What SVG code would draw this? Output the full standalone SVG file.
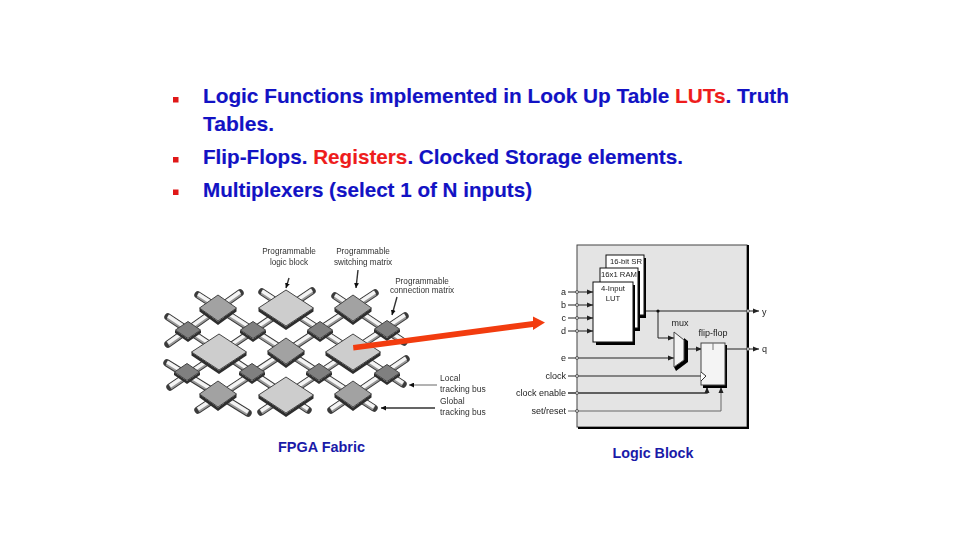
<svg xmlns="http://www.w3.org/2000/svg" width="960" height="540" viewBox="0 0 960 540">
<style>
text{font-family:"Liberation Sans",Arial,sans-serif}
.h{font-size:20.8px;font-weight:700;fill:#1212c4;stroke:#1212c4;stroke-width:.15}
.r{fill:#ee1c1c;stroke:#ee1c1c}
.cap{font-size:15.2px;font-weight:700;fill:#1a1aa8}
.s{font-size:8.2px;fill:#333;text-anchor:middle}
.l{font-size:8.5px;fill:#333}
.k{font-size:9px;fill:#222}
.k2{font-size:7.7px;fill:#222;text-anchor:middle}
.e{text-anchor:end}
.m{text-anchor:middle}
.bo{fill:none;stroke:#3a3a3a;stroke-width:7.4;stroke-linecap:round}
.bm{fill:none;stroke:#999;stroke-width:5.4;stroke-linecap:butt}
.bi{fill:none;stroke:#f4f4f4;stroke-width:3.4;stroke-linecap:butt}
.sh{fill:#2f2f2f}
.big{fill:#cdcdcd;stroke:#444;stroke-width:1}
.mid{fill:#a2a2a2;stroke:#444;stroke-width:1}
.sml{fill:#808080;stroke:#444;stroke-width:1}
.ln{fill:none;stroke:#222;stroke-width:1}
.ln2{fill:none;stroke:#333;stroke-width:1.4}
.thin{fill:none;stroke:#666;stroke-width:1}
.pin{fill:#ddd;stroke:#444;stroke-width:.8}
.dot{fill:#111}
.box{fill:#fff;stroke:#111;stroke-width:1}
.ff{fill:#f4f4f4;stroke:#444;stroke-width:1}
.blk{fill:#000}
</style>
<defs>
<filter id="soft" x="-5%" y="-5%" width="110%" height="110%"><feGaussianBlur stdDeviation="0.4"/></filter>
<marker id="a" viewBox="0 0 6 6" refX="6" refY="3" markerWidth="5" markerHeight="5" orient="auto" markerUnits="userSpaceOnUse"><path d="M0 0L6 3L0 6z" fill="#111"/></marker>
<marker id="t" viewBox="0 0 6 6" refX="6" refY="3" markerWidth="7" markerHeight="6" orient="auto" markerUnits="userSpaceOnUse"><path d="M0 0.5L6 3L0 5.5z" fill="#222"/></marker>
<g id="db"><path class="sh" d="M-27.500 0L0 18.500L27.500 0L27.500 3.500L0 22L-27.500 3.500z"/><path class="big" d="M-27.500 0L0-18L27.500 0L0 18z"/></g>
<g id="dm"><path class="sh" d="M-18.500 0L0 13.500L18.500 0L18.500 3.500L0 17L-18.500 3.500z"/><path class="mid" d="M-18.500 0L0-13L18.500 0L0 13z"/></g>
<g id="ds"><path class="sh" d="M-13 0L0 9L13 0L13 3L0 12L-13 3z"/><path class="sml" d="M-12.500 0L0-8.500L12.500 0L0 8.500z"/></g>
</defs>

<g id="bullets">
<rect x="173" y="97" width="5.500" height="5.500" fill="#e01818"/>
<rect x="173" y="157" width="5.500" height="5.500" fill="#e01818"/>
<rect x="173" y="189.500" width="5.500" height="5.500" fill="#e01818"/>
</g>
<g id="bullet-text">
<text class="h" x="203" y="103" textLength="586" lengthAdjust="spacingAndGlyphs">Logic Functions implemented in Look Up Table <tspan class="r">LUTs</tspan>. Truth</text>
<text class="h" x="203" y="131" textLength="71" lengthAdjust="spacingAndGlyphs">Tables.</text>
<text class="h" x="203" y="163.500" textLength="480" lengthAdjust="spacingAndGlyphs">Flip-Flops. <tspan class="r">Registers</tspan>. Clocked Storage elements.</text>
<text class="h" x="203" y="197" textLength="329" lengthAdjust="spacingAndGlyphs">Multiplexers (select 1 of N inputs)</text>
</g>

<g filter="url(#soft)">
<g id="connectors">
<g id="fabric-buses">
<g class="bo"><path d="M198 295L374 408M262 292L403 384M335 296L404 342M168 317L308 410M167 363L248 413M168 344L240 293M170 387L312 291M198 410L375 293M261 412L405 316M331 410L406 359"/></g>
<g class="bm"><path d="M198 295L374 408M262 292L403 384M335 296L404 342M168 317L308 410M167 363L248 413M168 344L240 293M170 387L312 291M198 410L375 293M261 412L405 316M331 410L406 359"/></g>
<g class="bi"><path d="M198 294L374 407M262 291L403 383M335 295L404 341M168 316L308 409M167 362L248 412M168 343L240 292M170 386L312 290M198 409L375 292M261 411L405 315M331 409L406 358"/></g>
</g>
<g id="label-leaders">
<path class="ln2" marker-end="url(#a)" d="M289 278L286 288"/>
<path class="ln2" marker-end="url(#a)" d="M358 270L356 288"/>
<path class="ln2" marker-end="url(#a)" d="M397 297L392 315"/>
<path class="thin" marker-end="url(#a)" d="M437 385L409 385"/>
<path class="ln2" marker-end="url(#a)" d="M435 408L381 408"/>
</g>
</g>

<g id="fabric-blocks">
<use id="m1" href="#dm" x="218" y="308"/>
<use id="b1" href="#db" x="286" y="308"/>
<use id="m2" href="#dm" x="353" y="308"/>
<use id="s1" href="#ds" x="188" y="330"/>
<use id="s2" href="#ds" x="253" y="330"/>
<use id="s3" href="#ds" x="320" y="330"/>
<use id="s4" href="#ds" x="387" y="329"/>
<use id="b2" href="#db" x="219" y="352"/>
<use id="m3" href="#dm" x="286" y="351"/>
<use id="b3" href="#db" x="353" y="352"/>
<use id="s5" href="#ds" x="187" y="372"/>
<use id="s6" href="#ds" x="252" y="372"/>
<use id="s7" href="#ds" x="319" y="372"/>
<use id="s8" href="#ds" x="387" y="373"/>
<use id="m4" href="#dm" x="218" y="394"/>
<use id="b4" href="#db" x="286" y="395"/>
<use id="m5" href="#dm" x="353" y="394"/>
</g>

<g id="fabric-labels">
<text class="s" x="289" y="254">Programmable</text>
<text class="s" x="289" y="265">logic block</text>
<text class="s" x="363" y="254">Programmable</text>
<text class="s" x="363" y="265">switching matrix</text>
<text class="s" x="422" y="284">Programmable</text>
<text class="s" x="422" y="293">connection matrix</text>
<text class="l" x="440" y="381">Local</text>
<text class="l" x="440" y="392">tracking bus</text>
<text class="l" x="440" y="404">Global</text>
<text class="l" x="440" y="415">tracking bus</text>
</g>

<g id="logic-block">
<rect x="577" y="245" width="170" height="182" fill="#e4e4e4" stroke="#444" stroke-width="1"/>
<path class="blk" d="M747 245h2v184H578v-2h169z"/>
</g>

<g id="block-wires">
<path class="ln" d="M636 311H748"/>
<path class="ln" marker-end="url(#t)" d="M748 311H759"/>
<path class="ln" marker-end="url(#t)" d="M658 311V338H674"/>
<path class="ln" marker-end="url(#t)" d="M686 349H702"/>
<path class="ln" d="M727 349H748"/>
<path class="ln" marker-end="url(#t)" d="M748 349H759"/>
<path class="ln" marker-end="url(#t)" d="M568 292H593"/>
<path class="ln" marker-end="url(#t)" d="M568 305H593"/>
<path class="ln" marker-end="url(#t)" d="M568 318H593"/>
<path class="ln" marker-end="url(#t)" d="M568 331H593"/>
<path class="ln" marker-end="url(#t)" d="M568 358H674"/>
<path class="ln" d="M568 376H702"/>
<path class="ln2" marker-end="url(#t)" d="M568 393H707V387"/>
<path class="thin" marker-end="url(#t)" d="M568 411H721V387"/>
<circle class="dot" cx="658" cy="311" r="1.600"/>
<g class="pin"><circle cx="577" cy="292" r="1.500"/><circle cx="577" cy="305" r="1.500"/><circle cx="577" cy="318" r="1.500"/><circle cx="577" cy="331" r="1.500"/><circle cx="577" cy="358" r="1.500"/><circle cx="577" cy="376" r="1.500"/><circle cx="577" cy="393" r="1.500"/><circle cx="577" cy="411" r="1.500"/><circle cx="748" cy="311" r="1.500"/><circle cx="748" cy="349" r="1.500"/></g>
</g>

<g id="sr16">
<rect class="blk" x="609" y="258" width="37" height="60"/>
<rect class="box" x="606" y="255" width="38" height="60"/>
<text class="k2" x="626" y="263.500">16-bit SR</text>
</g>
<g id="ram16">
<rect class="blk" x="603" y="271" width="37" height="60"/>
<rect class="box" x="600" y="268" width="38" height="60"/>
<text class="k2" x="619" y="277">16x1 RAM</text>
</g>
<g id="lut4">
<rect class="blk" x="596" y="285" width="39" height="60"/>
<rect class="box" x="593" y="282" width="40" height="60"/>
<text class="k2" x="613" y="291">4-Input</text>
<text class="k2" x="613" y="301">LUT</text>
</g>
<g id="mux">
<path class="blk" d="M676 371L688 362V341L684 338V360L674 367z"/>
<path class="ff" d="M674 332L684 340V360L674 367z"/>
<text class="k m" x="680" y="326">mux</text>
</g>
<g id="flip-flop">
<rect class="blk" x="703" y="345" width="24" height="43"/>
<rect class="ff" x="701" y="343" width="24" height="42"/>
<path d="M713 343V350" stroke="#777" fill="none"/>
<path d="M701 372L706 376L701 381" fill="#fff" stroke="#333"/>
<text class="k m" x="713" y="336">flip-flop</text>
</g>
<g id="pin-labels">
<text class="k e" x="566" y="295">a</text>
<text class="k e" x="566" y="308">b</text>
<text class="k e" x="566" y="321">c</text>
<text class="k e" x="566" y="334">d</text>
<text class="k e" x="566" y="361">e</text>
<text class="k e" x="566" y="379">clock</text>
<text class="k e" x="566" y="396">clock enable</text>
<text class="k e" x="566" y="414">set/reset</text>
<text class="k" x="762" y="315">y</text>
<text class="k" x="762" y="352">q</text>
</g>
</g>

<g id="red-arrow"><path d="M353 345L533 321L533 316.500L545 322.500L533 330L533 327L353.500 350.500z" fill="#f23c0f"/></g>

<g id="captions">
<text class="cap" x="278" y="451.500" textLength="87" lengthAdjust="spacingAndGlyphs">FPGA Fabric</text>
<text class="cap" x="612.500" y="458" textLength="81" lengthAdjust="spacingAndGlyphs">Logic Block</text>
</g>
</svg>
